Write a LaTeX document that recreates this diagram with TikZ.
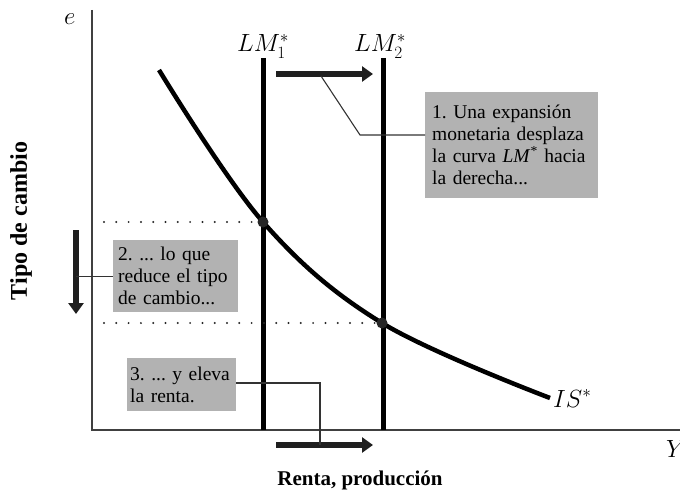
\documentclass[tikz,border=0pt]{standalone}
\usepackage{fontspec}
\setmainfont{Liberation Serif}
\usetikzlibrary{arrows.meta}
\frenchspacing
\newcommand\mynohyph{\hyphenpenalty=10000\relax\exhyphenpenalty=10000\relax}
\begin{document}
\begin{tikzpicture}[x=1pt,y=-1pt,
  axis/.style={line width=1.3pt, draw=black!75},
  lmline/.style={line width=5pt, draw=black},
  iscurve/.style={line width=4.5pt, draw=black},
  shiftarrow/.style={line width=6pt, draw=black!88, -{Triangle[length=11pt,width=15pt]}},
  leader/.style={line width=1.1pt, draw=black!80},
  guide/.style={line width=2.2pt, draw=black!85, line cap=round, dash pattern=on 0pt off 12.3pt},
  note/.style={fill=black!30, anchor=north west, inner ysep=0pt, align=left,
    font=\fontsize{19.5}{22}\selectfont\mynohyph},
  mathlabel/.style={inner sep=0pt, font=\fontsize{27}{30}\selectfont},
  axislabel/.style={inner sep=0pt, font=\fontsize{21}{24}\selectfont\bfseries},
  isdot/.style={circle, fill=black!85, inner sep=0pt, minimum size=11pt}
]
\useasboundingbox (0,0) rectangle (680,492);
% axes
\coordinate (o) at (92,430);
\coordinate (ytop) at (92,10);
\coordinate (xend) at (680,430);
\draw[axis] (ytop) -- (o) -- (xend);
\node[mathlabel, anchor=base west] (elab) at (64,25) {$e$};
\node[mathlabel, anchor=base west] (ylab) at (666,457) {$Y$};
\node[axislabel, rotate=90, anchor=base, font=\fontsize{24}{27}\selectfont\bfseries] (tipo) at (27,221) {Tipo de cambio};
\node[axislabel, anchor=base] (renta) at (360,485) {Renta, producción};
% LM lines
\coordinate (lm1t) at (263,58);
\coordinate (lm1b) at (263,430);
\coordinate (lm2t) at (383,58);
\coordinate (lm2b) at (383,430);
\draw[lmline] (lm1t) -- (lm1b);
\draw[lmline] (lm2t) -- (lm2b);
\node[mathlabel, anchor=base west] (lm1lab) at (237,52) {$LM_1^*$};
\node[mathlabel, anchor=base west] (lm2lab) at (354,52) {$LM_2^*$};
% IS curve
\draw[iscurve] plot[smooth, tension=0.6] coordinates {(159,70) (263,222) (382,323) (550,398)};
\node[mathlabel, anchor=base west] (islab) at (553,407) {$IS^*$};
% intersections
\node[isdot] (p1) at (263,222) {};
\node[isdot] (p2) at (382,323) {};
\coordinate (g1) at (104,222);
\coordinate (g2) at (104,323);
\draw[guide] (g1) -- (p1);
\draw[guide] (g2) -- (p2);
% shift arrows
\coordinate (ta1) at (276,74);
\coordinate (ta2) at (373,74);
\draw[shiftarrow] (ta1) -- (ta2);
\coordinate (da1) at (76,230);
\coordinate (da2) at (76,314);
\draw[shiftarrow] (da1) -- (da2);
\coordinate (ba1) at (276,445);
\coordinate (ba2) at (373,445);
\draw[shiftarrow] (ba1) -- (ba2);
% notes
\node[note, text width=159pt, inner xsep=7pt, minimum width=173pt, minimum height=106pt] (n1) at (425,92)
  {1. Una expansión\\monetaria desplaza\\la curva \textit{LM}\textsuperscript{*} hacia\\la derecha...};
\node[note, text width=115pt, inner xsep=5pt, minimum width=125pt, minimum height=72pt] (n2) at (113,240)
  {2. ... lo que\\reduce el tipo\\de cambio...};
\node[note, text width=103pt, inner xsep=3pt, minimum width=107pt, minimum height=53pt] (n3) at (127,358)
  {3. ... y eleva\\la renta.};
% leaders
\coordinate (k1) at (360,135);
\coordinate (k1e) at (321,76);
\draw[leader] (n1.north west |- k1) -- (k1) -- (k1e);
\draw[leader] (n2.west) -- (n2.west -| da1);
\coordinate (k3) at (320,383);
\draw[leader] (n3.north east |- k3) -- (k3) -- (k3 |- ba1);
\end{tikzpicture}
\end{document}
